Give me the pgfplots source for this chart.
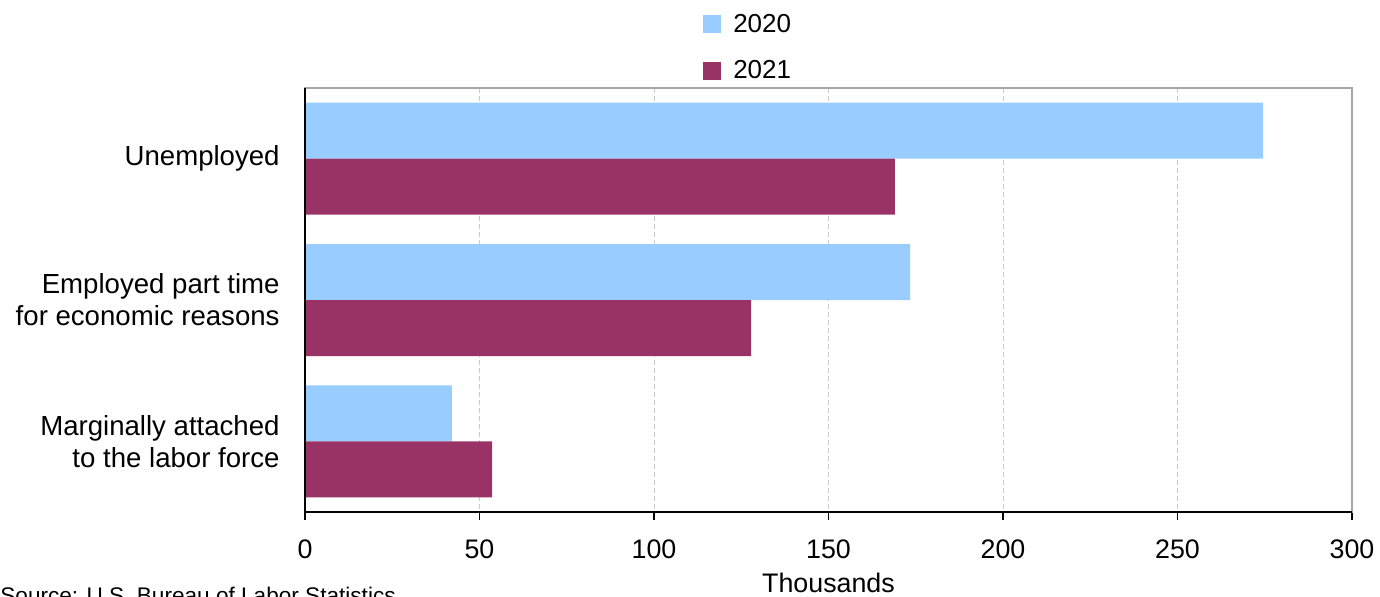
\documentclass[border=0pt]{standalone}
\usepackage{fontspec}
\setmainfont{Liberation Sans}
\usepackage{pgfplots}
\pgfplotsset{compat=1.18}
\definecolor{c2020}{HTML}{99CCFF}
\definecolor{c2021}{HTML}{993366}
\definecolor{framegray}{HTML}{A6A6A6}
\begin{document}
\begin{tikzpicture}
\path[use as bounding box] (0pt,0pt) rectangle (690pt,-298.5pt);
\begin{axis}[
  at={(152.5pt,-256pt)}, anchor=south west,
  scale only axis, width=523.5pt, height=212pt,
  xmin=0, xmax=300, ymin=-0.5, ymax=2.5, y dir=reverse,
  xbar, bar width=28pt,
  xtick={0,50,...,300},
  ytick={0,1,2},
  yticklabels={Unemployed, {Employed part time\\for economic reasons}, {Marginally attached\\to the labor force}},
  /pgf/number format/assume math mode=true,
  font=\fontsize{13}{16}\selectfont,
  tick align=outside,
  xtick pos=bottom,
  major tick length=4pt,
  ytick style={draw=none},
  xtick style={black, line width=0.8pt},
  xticklabel style={anchor=base, yshift=-19pt, font=\fontsize{13.4}{16}\selectfont},
  yticklabel style={anchor=east, align=right, inner sep=0pt, xshift=-8.5pt, font=\fontsize{13.8}{16}\selectfont},
  axis line style={framegray, line width=0.8pt},
  xmajorgrids,
  grid style={framegray!60, line width=0.5pt, dash pattern=on 2.5pt off 1.5pt},
  xlabel={Thousands},
  xlabel style={at={(axis description cs:0.5,0)}, anchor=center, yshift=-35.3pt, font=\fontsize{13.4}{16}\selectfont},
  legend style={draw=none, fill=none, at={(axis description cs:0.38,1)}, anchor=south west, yshift=1.2pt, row sep=8.5pt, inner sep=0pt, font=\fontsize{13}{16}\selectfont, nodes={inner xsep=6pt}},
  legend cell align=left,
  legend image code/.code={\path[#1] (0pt,-4.5pt) rectangle (9pt,4.5pt);},
  clip=false,
]
\addplot[fill=c2020, draw=none, bar shift=14pt] coordinates {(274.5,0) (173.4,1) (42.1,2)};
\addplot[fill=c2021, draw=none, bar shift=-14pt] coordinates {(169.0,0) (127.8,1) (53.6,2)};
\legend{2020,2021}
\draw[black, line width=1pt] (axis description cs:0,1) -- (axis description cs:0,0) -- (axis description cs:1,0);
\end{axis}
\node[anchor=north west, inner sep=0pt, font=\fontsize{11.3}{13}\selectfont] at (0pt,-293.5pt) {Source: U.S. Bureau of Labor Statistics.};
\end{tikzpicture}
\end{document}
